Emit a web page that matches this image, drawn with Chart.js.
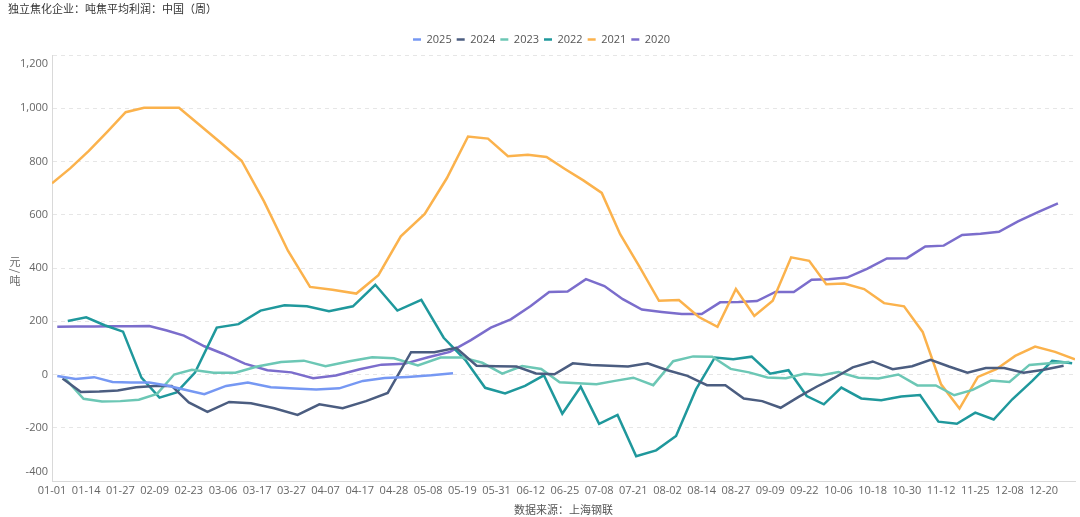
<!DOCTYPE html>
<html><head><meta charset="utf-8">
<script src="https://cdn.jsdelivr.net/npm/chart.js@4.4.1/dist/chart.umd.min.js"></script>
<style>html,body{margin:0;padding:0;background:#fff;}#wrap{width:1080px;height:517px;position:relative;}</style>
</head><body><div id="wrap"><canvas id="c" width="1080" height="517"></canvas></div>
<script>
const titleText = '独立焦化企业：吨焦平均利润：中国（周）';
const yUnit = ['元', '/', '吨'];
const sourceText = '数据来源：上海钢联';
const tickLabels = ['01-01','01-14','01-27','02-09','02-23','03-06','03-17','03-27','04-07','04-17','04-28','05-08','05-19','05-31','06-12','06-25','07-08','07-21','08-02','08-14','08-27','09-09','09-22','10-06','10-18','10-30','11-12','11-25','12-08','12-20'];
const axisEndDate = '12-31';
const yTicks = [-400,-200,0,200,400,600,800,1000,1200];
const years = ['2025','2024','2023','2022','2021','2020'];
const startDates = ['2025-01-03','2024-01-05','2023-01-06','2022-01-07','2021-01-01','2020-01-03'];
const v2025 = [-6,-17,-10,-28,-30,-30,-41,-56,-74,-43,-30,-48,-53,-56,-52,-24,-13,-9,-3,5];
const v2024 = [-15,-66,-64,-60,-48,-43,-43,-105,-140,-103,-108,-127,-152,-112,-127,-100,-69,84,84,100,33,31,30,4,1,42,36,33,30,42,16,-5,-40,-40,-90,-100,-125,-83,-46,-14,27,49,20,31,55,30,7,24,24,7,18,33];
const v2023 = [-15,-91,-101,-100,-95,-73,0,18,7,7,30,47,52,31,50,65,61,34,64,64,44,3,32,21,-29,-33,-37,-24,-12,-40,50,68,67,21,8,-11,-14,3,-3,9,-12,-15,0,-41,-41,-78,-58,-23,-28,36,42,47];
const v2022 = [201,215,185,161,-12,-87,-67,7,176,189,240,260,256,238,256,337,240,280,138,55,-50,-71,-43,-3,-147,-46,-185,-152,-307,-285,-231,-56,64,57,67,3,16,-81,-112,-49,-90,-97,-83,-77,-177,-185,-143,-169,-93,-24,51,42];
const v2021 = [718,775,840,911,985,1002,1002,1002,942,873,803,650,465,329,318,304,373,519,603,737,894,886,820,825,817,772,729,682,527,408,277,280,216,179,321,220,277,440,427,339,342,321,268,256,160,-37,-128,-9,20,70,105,85,57];
const v2020 = [179,180,180,181,181,182,165,146,106,78,41,16,8,-14,-4,20,37,40,65,85,129,176,207,257,310,312,358,332,283,244,235,227,227,271,272,276,310,310,356,358,364,397,436,437,481,484,524,529,536,575,610,643];
const seriesValues = [v2025, v2024, v2023, v2022, v2021, v2020];
const colors = ['#7698f3','#4b5d80','#6cc7b5','#1f989c','#fbb24c','#7b6dcc'];

const cum = [0,31,59,90,120,151,181,212,243,273,304,334];
function doy(md){ const p = md.split('-').map(Number); return cum[p[0]-1] + p[1]; }
const tickDays = tickLabels.map(doy);
function pos(md){
  const d = doy(md);
  for (let i = 0; i < tickDays.length - 1; i++) {
    if (d <= tickDays[i+1]) return i + (d - tickDays[i]) / (tickDays[i+1] - tickDays[i]);
  }
  const n = tickDays.length - 1;
  return n + (d - tickDays[n]) / (tickDays[n] - tickDays[n-1]);
}
function weekly(start, n){
  const p = start.split('-').map(Number); const out = [];
  for (let i = 0; i < n; i++) {
    const dt = new Date(Date.UTC(p[0], p[1]-1, p[2] + 7*i));
    out.push(String(dt.getUTCMonth()+1).padStart(2,'0') + '-' + String(dt.getUTCDate()).padStart(2,'0'));
  }
  return out;
}

const FONT = '"Open Sans", "Noto Sans CJK SC", sans-serif';
const datasets = years.map((y, k) => {
  const dates = weekly(startDates[k], seriesValues[k].length);
  return {
    label: y,
    data: dates.map((md, i) => ({x: pos(md), y: seriesValues[k][i]})),
    borderColor: colors[k], backgroundColor: colors[k],
    borderWidth: 2.5, pointRadius: 0, pointHoverRadius: 0, tension: 0, fill: false
  };
});

const extras = {
  id: 'extras',
  afterDraw(chart){
    const ctx = chart.ctx, ys = chart.scales.y, area = chart.chartArea;
    ctx.save();
    ctx.fillStyle = '#666';
    ctx.font = '11px ' + FONT;
    ctx.textAlign = 'right'; ctx.textBaseline = 'middle';
    const xr = area.left - 4;
    ctx.fillText(yTicks[yTicks.length-1].toLocaleString('en-US'), xr, ys.getPixelForValue(yTicks[yTicks.length-1]) + 9);
    ctx.fillText(yTicks[0].toLocaleString('en-US'), xr, ys.getPixelForValue(yTicks[0]) - 9.5);
    // vertical (upright) unit text
    ctx.textAlign = 'center';
    ctx.font = '11px "Noto Sans CJK SC", sans-serif';
    const cy = (area.top + area.bottom) / 2 + 3;
    const offs = [-9.5, 0, 10];
    yUnit.forEach((ch, i) => {
      const y = cy + offs[i];
      if (ch === '/') {
        ctx.save(); ctx.translate(15, y); ctx.rotate(Math.PI/2); ctx.fillText(ch, 0, 0); ctx.restore();
      } else ctx.fillText(ch, 15, y);
    });
    ctx.restore();
  }
};

new Chart(document.getElementById('c'), {
  type: 'line',
  data: { datasets },
  plugins: [extras],
  options: {
    responsive: false, animation: false, devicePixelRatio: 1,
    layout: { padding: { left: 8, right: 5, top: 0, bottom: 0 } },
    interaction: { mode: null },
    plugins: {
      tooltip: { enabled: false },
      title: { display: true, text: titleText, align: 'start', color: '#333',
               font: { family: FONT, size: 11, weight: 'normal' }, padding: { top: 3.4, bottom: 12.4 } },
      legend: { display: true, position: 'top', align: 'center',
        labels: { usePointStyle: true, pointStyle: 'line', pointStyleWidth: 8, padding: 5,
                  color: '#555', font: { family: FONT, size: 11 } } }
    },
    scales: {
      x: { type: 'linear', min: 0, max: pos(axisEndDate),
        afterBuildTicks: s => { s.ticks = tickLabels.map((_, i) => ({ value: i })); },
        afterFit: s => { s.height = 36; },
        grid: { display: false, drawTicks: false },
        border: { display: true, color: '#d9d9d9', width: 1 },
        ticks: { autoSkip: false, maxRotation: 0, padding: 3, color: '#666',
                 font: { family: FONT, size: 11 }, callback: v => tickLabels[v] },
        title: { display: true, text: sourceText, color: '#555', font: { family: FONT, size: 11 },
                 padding: { top: 0, bottom: 0 } } },
      y: { type: 'linear', min: yTicks[0], max: yTicks[yTicks.length-1],
        afterBuildTicks: s => { s.ticks = yTicks.map(v => ({ value: v })); },
        afterFit: s => { s.width = 44; },
        grid: { drawTicks: false, color: c => (c.tick && c.tick.value === yTicks[0]) ? 'rgba(0,0,0,0)' : '#e6e6e6', lineWidth: 1 },
        border: { display: true, color: '#d9d9d9', width: 1, dash: [4, 4] },
        ticks: { padding: 4, color: '#666', font: { family: FONT, size: 11 },
                 callback: v => (v === yTicks[0] || v === yTicks[yTicks.length-1]) ? '' : v.toLocaleString('en-US') } }
    }
  }
});
</script></body></html>
